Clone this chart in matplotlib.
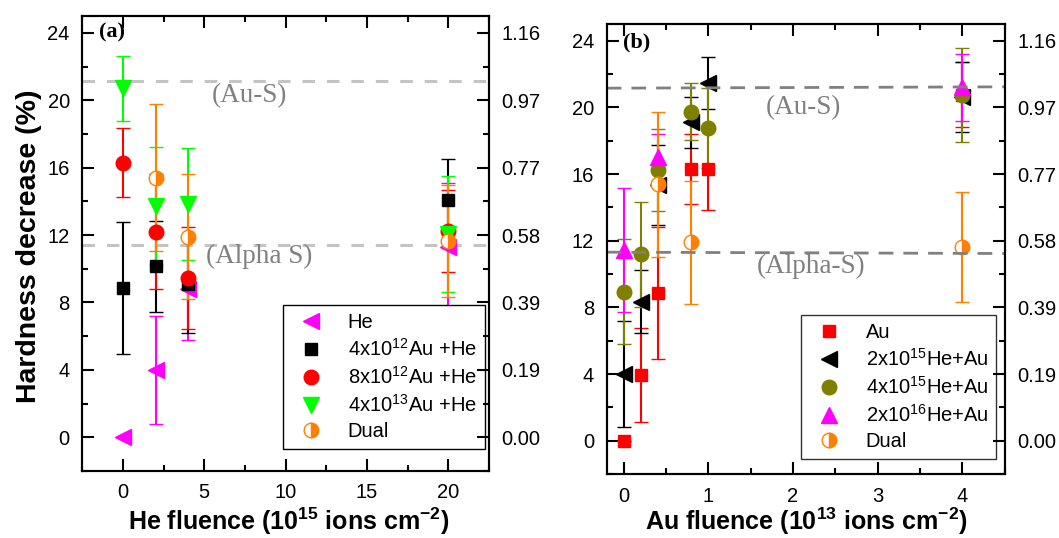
import numpy as np
import matplotlib
matplotlib.use("Agg")
import matplotlib.pyplot as plt
from matplotlib.lines import Line2D
from matplotlib.ticker import MultipleLocator, FixedLocator, FormatStrFormatter

plt.rcParams['font.family'] = ['Liberation Sans', 'DejaVu Sans']
plt.rcParams['mathtext.fontset'] = 'custom'
plt.rcParams['mathtext.rm'] = 'Liberation Sans'
plt.rcParams['mathtext.bf'] = 'Liberation Sans:bold'
plt.rcParams['mathtext.it'] = 'Liberation Sans:italic'

# ---------------- data: panel (a), He fluence (1e15 ions/cm2) ----------------
x_a = [0, 2, 4, 20]
he_y = [0.0, 4.0, 8.8, 11.3]
he_e = [0.0, 3.2, 3.0, 3.8]
au4e12_y = [8.85, 10.15, 9.1, 14.1]
au4e12_e = [3.9, 2.7, 2.9, 2.4]
au8e12_y = [16.3, 12.2, 9.45, 12.25]
au8e12_e = [2.05, 3.4, 3.0, 2.45]
au4e13_y = [20.7, 13.7, 13.85, 12.05]
au4e13_e = [1.95, 3.5, 3.3, 3.45]
dual_x_a = [2, 4, 20]
dual_y_a = [15.4, 11.9, 11.65]
dual_e_a = [4.35, 3.7, 3.35]
ref_a = [21.17, 11.44]            # (Au-S), (Alpha S)

# ---------------- data: panel (b), Au fluence (1e13 ions/cm2) ----------------
x_b = [0, 0.2, 0.4, 0.8, 1, 4]
au_y = [0.0, 3.95, 8.85, 16.3, 16.3, 20.75]
au_e = [0.0, 2.8, 3.95, 2.1, 2.45, 1.95]
he2e15_y = [4.0, 8.35, 15.35, 19.1, 21.45, 20.65]
he2e15_e = [3.2, 1.9, 2.4, 1.55, 1.55, 2.1]
he4e15_y = [8.95, 11.2, 16.25, 19.75, 18.75, 20.75]
he4e15_e = [3.15, 3.15, 2.45, 1.7, 2.4, 2.8]
he2e16_x = [0, 0.4, 4]
he2e16_y = [11.45, 17.0, 21.2]
he2e16_e = [3.7, 1.4, 2.0]
dual_x_b = [0.4, 0.8, 4]
dual_y_b = [15.4, 11.9, 11.65]
dual_e_b = [4.35, 3.7, 3.3]
ref_b_left = [21.15, 11.31]       # dashed lines drawn slightly tilted
ref_b_right = [21.23, 11.23]

yticks = [0, 4, 8, 12, 16, 20, 24]
k_right = 1.16 / 24                # right axis scale

MAGENTA, GREEN, ORANGE, OLIVE = '#ff00ff', '#00ff00', '#ff8000', '#808000'

fig = plt.figure(figsize=(10.59, 5.38), dpi=100)
W, H = 1059, 538
axa = fig.add_axes([82.3 / W, 67 / H, 406.7 / W, 455 / H])
axb = fig.add_axes([606.7 / W, 64 / H, 398 / W, 450 / H])


def eb(ax, x, y, e, color, marker, ms, dual=False):
    kw = dict(yerr=e, fmt=marker, color=color, ms=ms, mec=color, mew=1,
              capsize=4.8, capthick=1.5, elinewidth=1.5)
    if dual:
        kw.update(fillstyle='right', mfc=color, markerfacecoloralt='white')
    ax.errorbar(x, y, **kw)


def style(ax, xmaj, xmin, xlim):
    ax.set_xlim(*xlim)
    ax.set_ylim(-2, 25)
    ax.set_yticks(yticks)
    ax.yaxis.set_minor_locator(MultipleLocator(2))
    ax.xaxis.set_major_locator(MultipleLocator(xmaj))
    ax.xaxis.set_minor_locator(MultipleLocator(xmin))
    ax.tick_params(which='both', direction='in', top=True, right=False,
                   width=1.5, labelsize=14.5, pad=9)
    ax.tick_params(which='major', length=8.5)
    ax.tick_params(which='minor', length=4.5)
    for s in ax.spines.values():
        s.set_linewidth(1.5)
    tw = ax.twinx()
    tw.set_ylim(-2 * k_right, 25 * k_right)
    tw.yaxis.set_major_locator(FixedLocator(np.array(yticks) * k_right))
    tw.yaxis.set_minor_locator(FixedLocator(np.arange(-2, 26, 2) * k_right))
    tw.yaxis.set_major_formatter(FormatStrFormatter('%.2f'))
    tw.tick_params(which='both', direction='in', width=1.5, labelsize=14.5, pad=9)
    tw.tick_params(which='major', length=8.5)
    tw.tick_params(which='minor', length=4.5)
    for s in tw.spines.values():
        s.set_linewidth(1.5)
    return tw


# ---------------- panel (a) ----------------
for yv in ref_a:
    axa.axhline(yv, color='#c4c4c4', lw=2.2, dashes=(4.1, 3.9), zorder=1)
eb(axa, x_a, he_y, he_e, MAGENTA, '<', 11.5)
eb(axa, x_a, au4e12_y, au4e12_e, 'black', 's', 9)
eb(axa, x_a, au8e12_y, au8e12_e, 'red', 'o', 10.5)
eb(axa, x_a, au4e13_y, au4e13_e, GREEN, 'v', 12)
eb(axa, dual_x_a, dual_y_a, dual_e_a, ORANGE, 'o', 10.5, dual=True)
style(axa, 5, 2.5, (-2.5, 22.5))

axa.text(7.8, 20.3, '(Au-S)', family='Liberation Serif', fontsize=19.5,
         color='#808080', ha='center', va='center')
axa.text(8.35, 10.73, '(Alpha S)', family='Liberation Serif', fontsize=19.5,
         color='#808080', ha='center', va='center')
axa.text(0.041, 0.964, '(a)', transform=axa.transAxes, family='Liberation Serif',
         weight='bold', fontsize=16, ha='left', va='center')

axa.set_ylabel('Hardness decrease (%)', fontsize=20.5, fontweight='bold')
axa.yaxis.label.set_va('baseline')
axa.yaxis.set_label_coords(-0.114, 0.493)
axa.set_xlabel(r'He fluence (10$^{\mathbf{15}}$ ions cm$^{\mathbf{-2}}$)',
               fontsize=18, fontweight='bold')
axa.xaxis.label.set_va('baseline')
axa.xaxis.set_label_coords(0.507, -0.130)

handles_a = [
    Line2D([], [], ls='none', marker='<', color=MAGENTA, ms=11.5, label='He'),
    Line2D([], [], ls='none', marker='s', color='black', ms=9, label='4x10$^{12}$Au +He'),
    Line2D([], [], ls='none', marker='o', color='red', ms=10.5, label='8x10$^{12}$Au +He'),
    Line2D([], [], ls='none', marker='v', color=GREEN, ms=12, label='4x10$^{13}$Au +He'),
    Line2D([], [], ls='none', marker='o', color=ORANGE, ms=10.5, fillstyle='right',
           markerfacecoloralt='white', label='Dual'),
]
leg = axa.legend(handles=handles_a, loc='lower right', bbox_to_anchor=(0.989, 0.048),
                 borderaxespad=0, fontsize=14.5, fancybox=False, edgecolor='black',
                 framealpha=1, labelspacing=0.3, numpoints=1)
leg.get_frame().set_linewidth(1.0)

# ---------------- panel (b) ----------------
eb(axb, x_b, au_y, au_e, 'red', 's', 9)
eb(axb, x_b, he2e15_y, he2e15_e, 'black', '<', 11.5)
eb(axb, x_b, he4e15_y, he4e15_e, OLIVE, 'o', 10.5)
eb(axb, he2e16_x, he2e16_y, he2e16_e, MAGENTA, '^', 12)
eb(axb, dual_x_b, dual_y_b, dual_e_b, ORANGE, 'o', 10.5, dual=True)
style(axb, 1, 0.5, (-0.2, 4.5))
for y0, y1 in zip(ref_b_left, ref_b_right):
    axb.plot([-0.2, 4.5], [y0, y1], color='#808080', lw=2, dashes=(5.3, 3.6), zorder=3)

axb.text(2.12, 20.0, '(Au-S)', family='Liberation Serif', fontsize=19.5,
         color='#808080', ha='center', va='center')
axb.text(2.21, 10.46, '(Alpha-S)', family='Liberation Serif', fontsize=19.5,
         color='#808080', ha='center', va='center')
axb.text(0.04, 0.958, '(b)', transform=axb.transAxes, family='Liberation Serif',
         weight='bold', fontsize=16, ha='left', va='center')

axb.set_xlabel(r'Au fluence (10$^{\mathbf{13}}$ ions cm$^{\mathbf{-2}}$)',
               fontsize=18, fontweight='bold')
axb.xaxis.label.set_va('baseline')
axb.xaxis.set_label_coords(0.501, -0.124)

handles_b = [
    Line2D([], [], ls='none', marker='s', color='red', ms=9, label='Au'),
    Line2D([], [], ls='none', marker='<', color='black', ms=11.5, label='2x10$^{15}$He+Au'),
    Line2D([], [], ls='none', marker='o', color=OLIVE, ms=10.5, label='4x10$^{15}$He+Au'),
    Line2D([], [], ls='none', marker='^', color=MAGENTA, ms=12, label='2x10$^{16}$He+Au'),
    Line2D([], [], ls='none', marker='o', color=ORANGE, ms=10.5, fillstyle='right',
           markerfacecoloralt='white', label='Dual'),
]
leg = axb.legend(handles=handles_b, loc='lower right', bbox_to_anchor=(0.979, 0.033),
                 borderaxespad=0, fontsize=14.5, fancybox=False, edgecolor='#333333',
                 framealpha=1, labelspacing=0.3, numpoints=1)
leg.get_frame().set_linewidth(1.0)

fig.savefig('out.png', dpi=100)
